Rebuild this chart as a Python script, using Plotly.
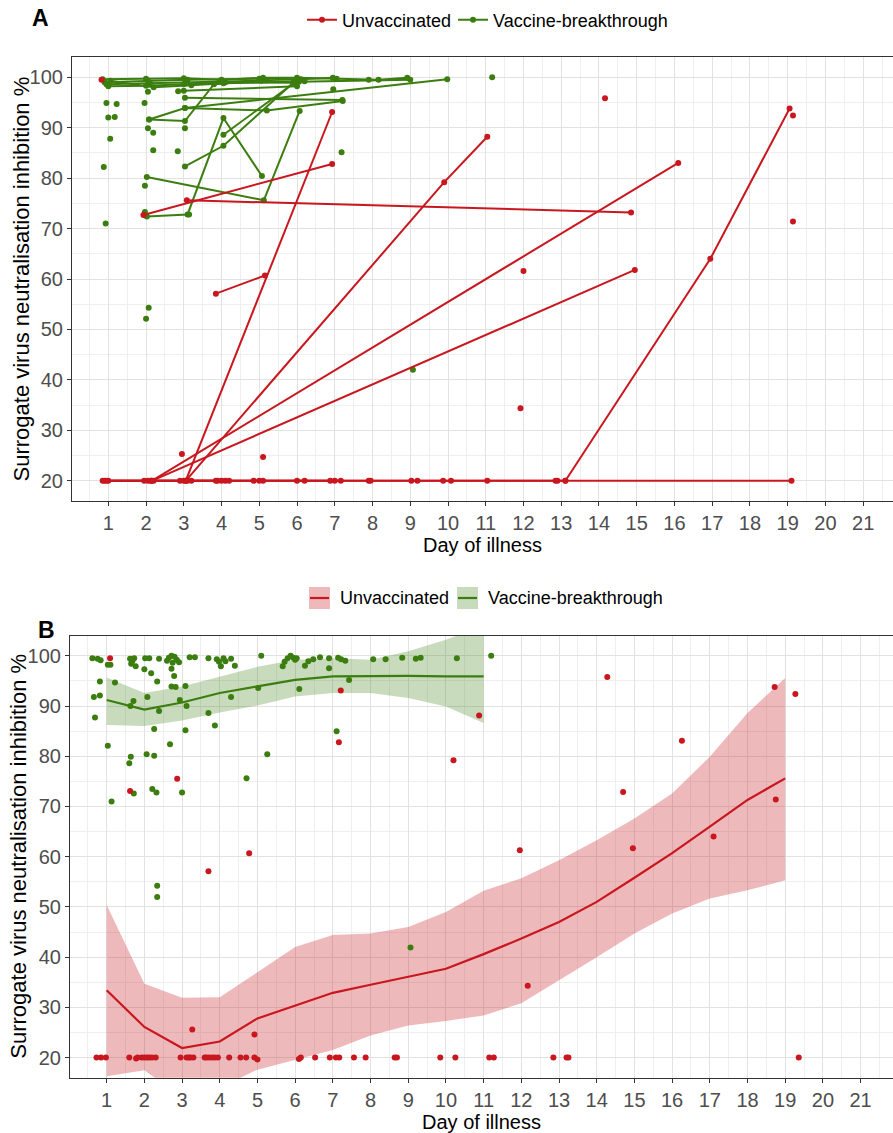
import plotly.graph_objects as go

# ---------------- colours ----------------
RED = "#C8171E"
GREEN = "#3B7E0F"
RED_FILL = "rgba(200,23,30,0.30)"
GREEN_FILL = "rgba(59,126,15,0.28)"

GROUPS = ["Unvaccinated", "Vaccine-breakthrough"]

# ---------------- Panel A : per-patient trajectories ----------------
A_UNVAX_DAYS = [
    [0.82],
    [0.85, 1.95, 2.9, 3.85, 4.85, 6.0, 6.88, 7.9, 9.03, 9.87, 11.04, 12.85, 19.1],
    [0.9, 2.05, 3.1, 4.0, 5.1, 6.2, 7.0, 7.95, 9.19, 10.08, 12.9, 13.11],
    [0.95, 2.2, 3.2, 4.1, 5.0, 7.16],
    [1.0, 2.12, 3.0, 3.9, 4.2],
    [3.05, 6.93],
    [3.85, 5.15],
    [3.05, 9.9, 11.04],
    [2.15, 16.1],
    [2.15, 14.95],
    [13.11, 16.95, 19.05],
    [3.08, 14.85],
    [1.93, 6.93],
    [19.14], [19.14], [14.16], [12.0], [11.92], [2.95], [5.1],
]
A_UNVAX_VALUES = [
    [99.5],
    [20, 20, 20, 20, 20, 20, 20, 20, 20, 20, 20, 20, 20],
    [20, 20, 20, 20, 20, 20, 20, 20, 20, 20, 20, 20],
    [20, 20, 20, 20, 20, 20],
    [20, 20, 20, 20, 20],
    [20, 93.1],
    [57.1, 60.7],
    [20, 79.2, 88.2],
    [20, 83.0],
    [20, 61.8],
    [20, 64.0, 93.8],
    [75.6, 73.2],
    [72.7, 82.8],
    [92.4], [71.4], [95.8], [61.6], [34.4], [25.3], [24.7],
]

A_VAX_DAYS = [
    [0.85, 2.0, 3.0, 4.0, 5.1, 6.0, 7.05, 7.9, 8.16, 8.92],
    [0.9, 2.05, 3.1, 5.0, 6.1, 6.95],
    [0.95, 2.1, 3.05, 3.95, 5.05, 6.05, 9.0],
    [1.0, 2.0, 3.0, 4.1, 5.9],
    [1.05, 2.2, 3.2, 4.05, 6.2],
    [2.08, 3.03, 3.8, 5.2],
    [2.08, 3.03, 5.2, 7.21],
    [3.03, 9.98],
    [3.03, 7.2],
    [3.0, 6.0],
    [3.03, 4.05, 5.9],
    [4.05, 5.95],
    [2.02, 3.1, 4.05, 5.07],
    [2.02, 5.12, 6.07],
    [0.95], [1.22], [1.0], [1.17], [1.05], [0.88], [0.93], [1.96], [2.05],
    [2.19], [2.19], [2.84], [3.03], [2.85], [2.05], [1.97], [1.97], [2.0],
    [3.14], [6.96], [7.18], [11.17], [2.07], [2.0], [9.07],
]
A_VAX_VALUES = [
    [99.6, 99.7, 99.8, 99.5, 99.9, 99.9, 99.7, 99.5, 99.5, 99.9],
    [99.0, 99.3, 99.5, 99.7, 99.6, 99.9],
    [98.6, 98.8, 99.0, 99.2, 99.3, 99.1, 99.5],
    [98.2, 98.3, 98.6, 99.0, 98.9],
    [99.3, 98.0, 98.4, 98.8, 99.2],
    [91.6, 91.3, 98.6, 99.4],
    [91.6, 93.9, 93.4, 95.3],
    [93.9, 99.6],
    [95.9, 95.5],
    [97.3, 98.2],
    [82.3, 86.4, 98.9],
    [88.6, 99.0],
    [72.4, 72.8, 91.9, 80.4],
    [80.2, 75.6, 93.3],
    [94.9], [94.7], [92.0], [92.1], [87.8], [82.2], [71.0], [94.9], [89.9],
    [89.0], [85.5], [85.3], [89.9], [97.2], [97.1], [78.5], [73.3], [72.6],
    [72.8], [97.6], [85.1], [100.0], [54.3], [52.1], [42.0],
]

# ---------------- Panel B : observations (jittered days) ----------------
B_UNVAX_DAY = [1.09, 1.62, 2.87, 7.16, 7.21, 10.2, 10.88, 4.78, 3.7, 3.27, 4.92,
               14.28, 18.72, 19.27, 16.26, 14.7, 18.75, 17.1, 14.96, 11.96, 12.17,
               0.73, 0.85, 0.98, 1.6, 1.78, 1.82, 1.93, 2.0, 2.07, 2.13, 2.2, 2.3,
               2.96, 3.12, 3.18, 3.22, 3.3, 3.6, 3.65, 3.72, 3.8, 3.87, 3.95, 4.25,
               4.55, 4.7, 4.92, 5.0, 6.1, 6.15, 6.53, 6.92, 7.08, 7.17, 7.56, 7.87,
               8.64, 8.7, 9.85, 10.25, 11.15, 11.27, 12.85, 13.2, 13.25, 19.36]
B_UNVAX_VAL = [99.5, 73.1, 75.5, 82.8, 93.1, 79.2, 88.1, 60.7, 57.1, 25.6, 24.6,
               95.8, 93.8, 92.4, 83.1, 72.9, 71.4, 64.0, 61.7, 61.3, 34.3,
               20, 20, 20, 20, 19.8, 20, 20, 20, 20, 20, 20, 20,
               20, 20, 20, 20, 20, 20, 20, 20, 20, 20, 20, 20,
               20, 20, 20, 19.6, 19.7, 20, 20, 20, 20, 20, 20, 20,
               20, 20, 20, 20, 20, 20, 20, 20, 20, 20]

B_VAX_DAY = [0.62, 0.76, 0.84, 1.03, 1.1, 1.62, 1.68, 1.73, 1.65, 1.77, 2.0, 2.02,
             2.13, 2.18, 2.39, 2.6, 2.65, 2.72, 2.75, 2.8, 2.86, 2.92, 3.2, 3.34,
             3.7, 3.92, 3.98, 4.03, 4.1, 4.15, 4.3, 4.4, 5.1, 5.67, 5.72, 5.8, 5.88,
             5.95, 6.0, 6.04, 6.26, 6.35, 6.48, 6.66, 6.9, 7.14, 7.22, 7.33, 8.07,
             8.4, 8.84, 9.2, 9.33, 10.29, 11.2,
             0.82, 1.22, 0.66, 0.82, 0.69, 1.03, 1.6, 1.64, 2.06, 2.26, 1.72, 2.21,
             2.32, 3.0, 2.68, 2.26, 3.09, 1.63, 1.71, 2.08, 2.39, 2.34, 2.72, 2.83,
             2.79, 2.72, 3.09, 2.94, 3.12, 3.7, 3.87, 4.3, 5.02, 6.11, 6.9, 7.1,
             7.43, 5.26, 4.71, 1.13, 2.34, 2.34, 9.06]
B_VAX_VAL = [99.5, 99.4, 99.1, 98.2, 98.2, 99.4, 98.9, 99.5, 98.4, 97.9, 97.3, 99.5,
             99.5, 96.5, 99.4, 99.0, 99.6, 100.0, 98.6, 99.8, 99.2, 98.7, 99.7, 99.7,
             99.5, 99.3, 98.8, 97.9, 99.5, 98.9, 99.4, 98.0, 100.0, 97.9, 98.8, 99.5,
             100.0, 99.6, 99.2, 99.5, 98.0, 98.9, 99.3, 99.7, 99.5, 99.6, 99.3, 99.0,
             99.3, 99.3, 99.6, 99.4, 99.6, 99.5, 100.0,
             94.9, 94.7, 91.8, 92.1, 87.7, 82.1, 78.6, 79.9, 80.4, 80.1, 72.6, 73.5,
             72.8, 72.8, 82.4, 85.4, 85.2, 90.0, 91.0, 91.8, 89.0, 94.9, 93.9, 93.8,
             96.0, 97.4, 94.0, 91.2, 90.0, 88.6, 86.1, 91.8, 93.6, 93.4, 97.5, 85.0,
             95.2, 80.4, 75.6, 71.0, 54.2, 52.0, 41.9]

# ---------------- Panel B : loess fits with 95% CI ----------------
B_UNVAX_FIT_DAY = [1, 2, 3, 4, 5, 6, 7, 8, 9, 10, 11, 12, 13, 14, 15, 16, 17, 18, 19]
B_UNVAX_FIT = [33.4, 26.1, 21.9, 23.2, 27.8, 30.4, 32.9, 34.5, 36.1, 37.7, 40.6,
               43.7, 47.0, 51.0, 55.8, 60.7, 66.0, 71.3, 75.6]
B_UNVAX_UPPER = [50.4, 34.7, 31.9, 32.0, 37.0, 42.0, 44.4, 44.7, 46.0, 49.0, 53.2,
                 55.7, 59.3, 63.3, 67.6, 72.6, 79.9, 88.6, 95.6]
B_UNVAX_LOWER = [16.3, 17.5, 12.0, 14.0, 17.6, 19.5, 21.5, 24.4, 26.4, 27.3, 28.4,
                 30.8, 35.4, 40.0, 44.7, 48.7, 51.7, 53.3, 55.3]

B_VAX_FIT_DAY = [1, 2, 3, 4, 5, 6, 7, 8, 9, 10, 11]
B_VAX_FIT = [91.2, 89.3, 90.7, 92.6, 93.9, 95.2, 95.9, 96.0, 96.0, 95.9, 95.9]
B_VAX_UPPER = [95.7, 92.6, 93.9, 95.9, 97.8, 99.2, 99.5, 99.2, 100.9, 103.2, 106.0]
B_VAX_LOWER = [86.2, 86.0, 87.1, 88.7, 90.1, 91.9, 92.6, 92.6, 91.6, 89.9, 86.6]

# ---------------- axis ticks / texts ----------------
X_TICKS = list(range(1, 22))
Y_TICKS = [20, 30, 40, 50, 60, 70, 80, 90, 100]
Y_TITLE = "Surrogate virus neutralisation inhibition %"
X_TITLE = "Day of illness"

W, H = 893, 1133
FONT = "Liberation Sans, Arial, sans-serif"


def joined(days_list, vals_list):
    xs, ys = [], []
    for d, v in zip(days_list, vals_list):
        xs += list(d) + [None]
        ys += list(v) + [None]
    return xs, ys


fig = go.Figure()

# ---- Panel A ----
gx, gy = joined(A_VAX_DAYS, A_VAX_VALUES)
rx, ry = joined(A_UNVAX_DAYS, A_UNVAX_VALUES)
fig.add_trace(go.Scatter(x=gx, y=gy, mode="lines+markers", name=GROUPS[1],
                         line=dict(color=GREEN, width=2), marker=dict(color=GREEN, size=6),
                         connectgaps=False, legend="legend3",
                         xaxis="x", yaxis="y"))
fig.add_trace(go.Scatter(x=rx, y=ry, mode="lines+markers", name=GROUPS[0],
                         line=dict(color=RED, width=2), marker=dict(color=RED, size=6),
                         connectgaps=False, legend="legend",
                         xaxis="x", yaxis="y"))


# ---- Panel B ----
def band(xd, lo, hi, fill):
    return go.Scatter(x=list(xd) + list(xd)[::-1], y=list(hi) + list(lo)[::-1],
                      fill="toself", fillcolor=fill, line=dict(width=0),
                      mode="lines", hoverinfo="skip", showlegend=False,
                      xaxis="x2", yaxis="y2")


fig.add_trace(band(B_UNVAX_FIT_DAY, B_UNVAX_LOWER, B_UNVAX_UPPER, RED_FILL))
fig.add_trace(band(B_VAX_FIT_DAY, B_VAX_LOWER, B_VAX_UPPER, GREEN_FILL))
fig.add_trace(go.Scatter(x=B_VAX_DAY, y=B_VAX_VAL, mode="markers",
                         marker=dict(color=GREEN, size=6), showlegend=False,
                         xaxis="x2", yaxis="y2"))
fig.add_trace(go.Scatter(x=B_UNVAX_DAY, y=B_UNVAX_VAL, mode="markers",
                         marker=dict(color=RED, size=6), showlegend=False,
                         xaxis="x2", yaxis="y2"))
fig.add_trace(go.Scatter(x=B_UNVAX_FIT_DAY, y=B_UNVAX_FIT, mode="lines", name=GROUPS[0],
                         line=dict(color=RED, width=2.2), showlegend=False,
                         xaxis="x2", yaxis="y2"))
fig.add_trace(go.Scatter(x=B_VAX_FIT_DAY, y=B_VAX_FIT, mode="lines", name=GROUPS[1],
                         line=dict(color=GREEN, width=2.2), showlegend=False,
                         xaxis="x2", yaxis="y2"))


def xaxis(dom, rng, anchor):
    return dict(domain=dom, range=rng, anchor=anchor, tickmode="array", tickvals=X_TICKS,
                ticks="outside", ticklen=4, tickcolor="#333333",
                tickfont=dict(size=20, color="#4D4D4D", family=FONT),
                showgrid=True, gridcolor="#E2E2E2", gridwidth=1,
                minor=dict(dtick=0.5, tick0=0.5, showgrid=True, gridcolor="#EFEFEF", gridwidth=0.8),
                showline=True, linecolor="#333333", linewidth=1.2, mirror=True,
                zeroline=False,
                title=dict(text=X_TITLE, font=dict(size=20, color="black", family=FONT), standoff=4))


def yaxis(dom, anchor):
    return dict(domain=dom, range=[16, 104], anchor=anchor, tickmode="array", tickvals=Y_TICKS,
                ticks="outside", ticklen=4, tickcolor="#333333",
                tickfont=dict(size=20, color="#4D4D4D", family=FONT),
                showgrid=True, gridcolor="#E2E2E2", gridwidth=1,
                minor=dict(dtick=5, tick0=15, showgrid=True, gridcolor="#EFEFEF", gridwidth=0.8),
                showline=True, linecolor="#333333", linewidth=1.2, mirror=False,
                zeroline=False)


# manual key for panel B legend (fill square + line, ggplot style)
shapes = []
annotations = []
for x0, col, fill in [(309, RED, RED_FILL), (457, GREEN, GREEN_FILL)]:
    shapes.append(dict(type="rect", xref="paper", yref="paper",
                       x0=x0 / W, x1=(x0 + 21) / W, y0=1 - 609 / H, y1=1 - 587 / H,
                       fillcolor=fill, line=dict(width=0)))
    shapes.append(dict(type="line", xref="paper", yref="paper",
                       x0=(x0 + 1) / W, x1=(x0 + 20) / W, y0=1 - 598 / H, y1=1 - 598 / H,
                       line=dict(color=col, width=2.2)))
annotations.append(dict(text=GROUPS[0], x=338 / W, y=1 - 598 / H, xref="paper", yref="paper",
                        xanchor="left", yanchor="middle", showarrow=False,
                        font=dict(size=18, color="black", family=FONT)))
annotations.append(dict(text=GROUPS[1], x=486 / W, y=1 - 598 / H, xref="paper", yref="paper",
                        xanchor="left", yanchor="middle", showarrow=False,
                        font=dict(size=18, color="black", family=FONT)))

# panel tags
annotations.append(dict(text="<b>A</b>", x=40 / W, y=1 - 18 / H, xref="paper", yref="paper",
                        xanchor="center", yanchor="middle", showarrow=False,
                        font=dict(size=23, color="black", family=FONT)))
annotations.append(dict(text="<b>B</b>", x=46 / W, y=1 - 630 / H, xref="paper", yref="paper",
                        xanchor="center", yanchor="middle", showarrow=False,
                        font=dict(size=23, color="black", family=FONT)))
# y-axis titles
annotations.append(dict(text=Y_TITLE, x=21.5 / W, y=1 - 279 / H, xref="paper", yref="paper",
                        xanchor="center", yanchor="middle", textangle=-90, showarrow=False,
                        font=dict(size=22, color="black", family=FONT)))
annotations.append(dict(text=Y_TITLE, x=19 / W, y=1 - 856.7 / H, xref="paper", yref="paper",
                        xanchor="center", yanchor="middle", textangle=-90, showarrow=False,
                        font=dict(size=22, color="black", family=FONT)))

LEG_FONT = dict(size=18, color="black", family=FONT)
fig.update_layout(
    width=W, height=H, margin=dict(l=0, r=0, t=0, b=0),
    paper_bgcolor="white", plot_bgcolor="white",
    font=dict(family=FONT, color="black"),
    xaxis=xaxis([72 / W, 1.0], [0.038, 21.79], "y"),
    yaxis=yaxis([1 - 501 / H, 1 - 57 / H], "x"),
    xaxis2=xaxis([70 / W, 1.0], [0.027, 21.86], "y2"),
    yaxis2=yaxis([1 - 1077.7 / H, 1 - 635.7 / H], "x2"),
    legend=dict(orientation="h", x=302 / W, xanchor="left", y=1 - 20 / H, yanchor="middle",
                font=LEG_FONT, bgcolor="rgba(0,0,0,0)"),
    legend3=dict(orientation="h", x=453 / W, xanchor="left", y=1 - 20 / H, yanchor="middle",
                 font=LEG_FONT, bgcolor="rgba(0,0,0,0)"),
    shapes=shapes,
    annotations=annotations,
)

fig.write_html("out.html", config={"displayModeBar": False},
               post_script="document.body.style.margin='0';document.body.style.overflow='hidden';")
